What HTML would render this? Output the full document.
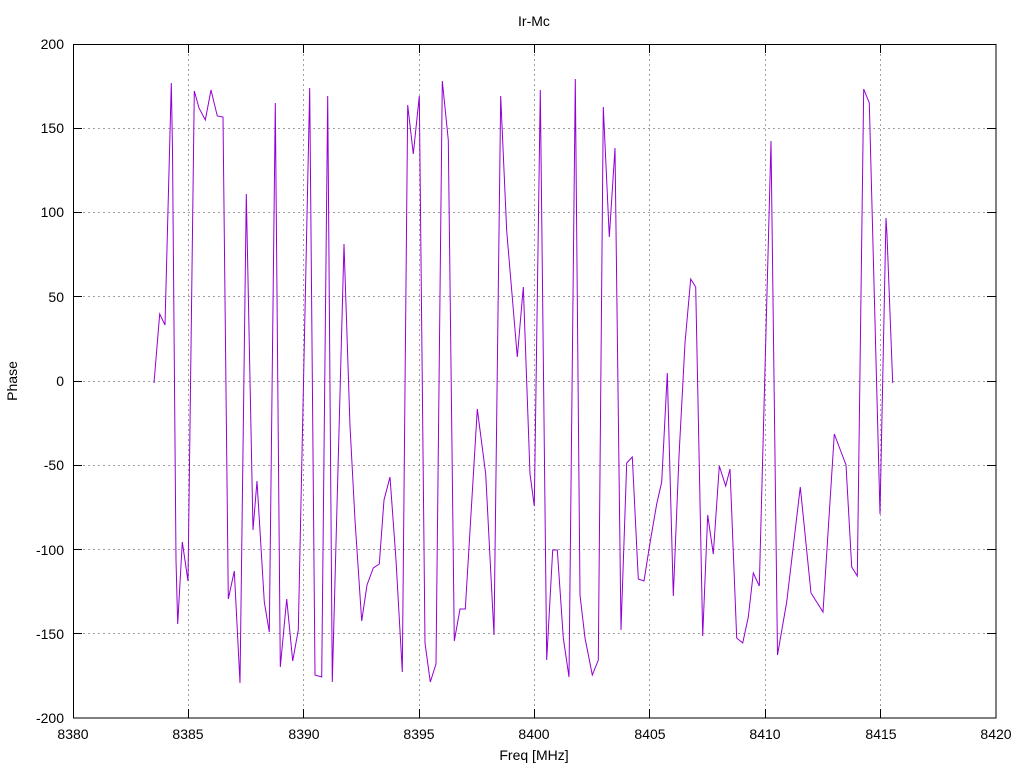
<!DOCTYPE html>
<html><head><style>body{margin:0;background:#fff}svg{display:block}text{font-family:"Liberation Sans",sans-serif;font-size:14px;fill:#000}</style></head><body>
<svg width="1024" height="768" xmlns="http://www.w3.org/2000/svg">
<g stroke="#a0a0a0" stroke-width="1" stroke-dasharray="2,3">
<line x1="188.5" y1="44" x2="188.5" y2="718"/><line x1="303.5" y1="44" x2="303.5" y2="718"/><line x1="419.5" y1="44" x2="419.5" y2="718"/><line x1="534.5" y1="44" x2="534.5" y2="718"/><line x1="649.5" y1="44" x2="649.5" y2="718"/><line x1="765.5" y1="44" x2="765.5" y2="718"/><line x1="880.5" y1="44" x2="880.5" y2="718"/>
<line x1="73" y1="128.5" x2="996" y2="128.5"/><line x1="73" y1="212.5" x2="996" y2="212.5"/><line x1="73" y1="296.5" x2="996" y2="296.5"/><line x1="73" y1="381.5" x2="996" y2="381.5"/><line x1="73" y1="465.5" x2="996" y2="465.5"/><line x1="73" y1="549.5" x2="996" y2="549.5"/><line x1="73" y1="633.5" x2="996" y2="633.5"/>
</g>
<g stroke="#000" stroke-width="1">
<rect x="73.5" y="44.5" width="922.5" height="673.5" fill="none"/>
<path d="M73 128.5h9M996 128.5h-9M73 212.5h9M996 212.5h-9M73 296.5h9M996 296.5h-9M73 381.5h9M996 381.5h-9M73 465.5h9M996 465.5h-9M73 549.5h9M996 549.5h-9M73 633.5h9M996 633.5h-9M188.5 718v-9M188.5 44v9M303.5 718v-9M303.5 44v9M419.5 718v-9M419.5 44v9M534.5 718v-9M534.5 44v9M649.5 718v-9M649.5 44v9M765.5 718v-9M765.5 44v9M880.5 718v-9M880.5 44v9"/>
</g>
<g text-anchor="end">
<text x="64" y="49">200</text><text x="64" y="133">150</text><text x="64" y="217">100</text><text x="64" y="302">50</text><text x="64" y="386">0</text><text x="64" y="470">-50</text><text x="64" y="555">-100</text><text x="64" y="639">-150</text><text x="64" y="723">-200</text>
</g>
<g text-anchor="middle">
<text x="73" y="739">8380</text><text x="188" y="739">8385</text><text x="304" y="739">8390</text><text x="419" y="739">8395</text><text x="534" y="739">8400</text><text x="650" y="739">8405</text><text x="765" y="739">8410</text><text x="881" y="739">8415</text><text x="996" y="739">8420</text>
<text x="534" y="760">Freq [MHz]</text>
<text x="534" y="26">Ir-Mc</text>
<text x="17" y="381" transform="rotate(-90 17 381)">Phase</text>
</g>
<polyline fill="none" stroke="#9400d3" stroke-width="1" points="154,383 159.7,314 165,325 171.3,83 172.5,150 176,560 177.7,624 182.3,542 188,581 194.3,91 199,108 205.3,120 211,90 217.3,116 223,117 228.3,599 234.3,571 240,683 246.3,194 253,530 257,481 264.3,602 269.3,632 275.3,103 280.3,667 286.7,599 292.7,661 298.3,630 309.7,88 315,675 321.7,677 327.7,96 332.3,682 344,244 350,426 355,520 361.7,621 367,585 373.3,568 379.3,564 384,500 390,477 396,560 402.3,672 407.7,105 413.3,154 419.3,96 425,643 430.3,682 436,664 442.3,81 448.3,140 454.3,641 460,609 465.3,609 477.3,409 485.7,474 494,635 500.7,96 506.7,231 517.3,357 523.3,287 530,474 534.3,506 540.3,90 546.7,660 552.7,550 557.3,550 563.3,638 569,677 575.3,79 580,595 585,638 592.3,675 598.3,660 603.3,107 609.3,237 615,148 621,630 626.7,463 632.3,457 638.3,579 644,581 650,543 656.7,504 661.7,482 667.3,373 673.3,596 679,456 685,343 690.7,279 695.7,287 702.7,636 707.7,515 713.3,554 719.3,466 725.7,486 730,469 736.7,638 742.7,643 748.3,617 753.3,573 759.3,586 771,141 777.5,655 786.7,602 800.3,487 811,593 823,612 834.3,434 846,465 851.7,567 857.3,576 863.7,89 869.3,103 880,514 886,218 887,235 892.7,383"/>
</svg>
</body></html>
